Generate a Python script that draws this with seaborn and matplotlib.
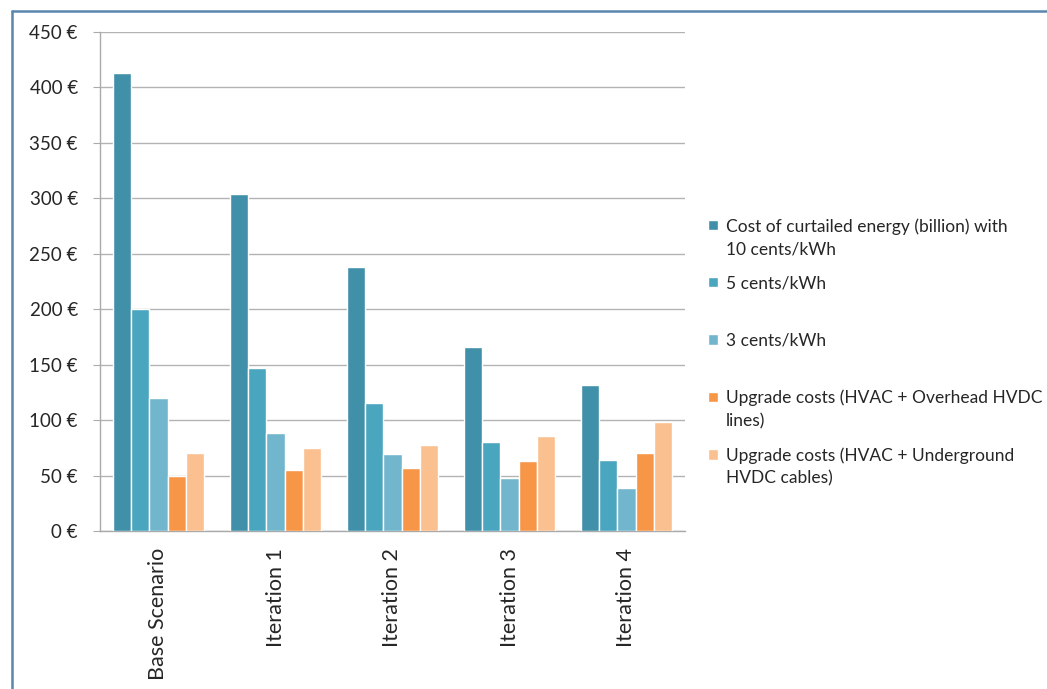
import matplotlib
matplotlib.use("Agg")
import matplotlib.pyplot as plt
import seaborn as sns
import pandas as pd
from matplotlib.lines import Line2D

categories = ["Base Scenario", "Iteration 1", "Iteration 2", "Iteration 3", "Iteration 4"]
cost_10c = [413, 304, 238, 166, 132]
cost_5c = [200, 147, 115, 80, 64]
cost_3c = [120, 88, 69, 48, 39]
upgrade_overhead = [50, 55, 57, 63, 70]
upgrade_underground = [70, 75, 78, 86, 98]

series_names = [
    "Cost of curtailed energy (billion) with\n10 cents/kWh",
    "5 cents/kWh",
    "3 cents/kWh",
    "Upgrade costs (HVAC + Overhead HVDC\nlines)",
    "Upgrade costs (HVAC + Underground\nHVDC cables)",
]
series_values = [cost_10c, cost_5c, cost_3c, upgrade_overhead, upgrade_underground]
colors = ["#4190AA", "#4AA5BF", "#72B6CD", "#F79646", "#FAC090"]
yticks = [0, 50, 100, 150, 200, 250, 300, 350, 400, 450]

rows = []
for name, vals in zip(series_names, series_values):
    for cat, v in zip(categories, vals):
        rows.append({"category": cat, "series": name, "value": v})
df = pd.DataFrame(rows)

sns.set_style("white")
plt.rcParams["font.family"] = ["Lato", "DejaVu Sans"]

W, H = 1047, 689
fig = plt.figure(figsize=(W / 100, H / 100), dpi=100)
ax = fig.add_axes([100 / W, 1 - 531 / H, 585 / W, 499 / H])

sns.barplot(data=df, x="category", y="value", hue="series", order=categories,
            hue_order=series_names, palette=colors, width=0.77, gap=0,
            edgecolor="white", linewidth=1.0, saturation=1, ax=ax, zorder=3)

ax.set_ylim(0, 450)
ax.set_xlim(-0.5, 4.5)
ax.set_yticks(yticks)
ax.set_yticklabels([f"{t} €" for t in yticks], fontsize=13.5)
ax.set_xticks(range(len(categories)))
ax.set_xticklabels(categories, rotation=90, fontsize=15.5)
ax.set_xlabel("")
ax.set_ylabel("")
ax.yaxis.grid(True, color="#B3B3B3", linewidth=1.0, zorder=0)
ax.set_axisbelow(True)
for s in ["top", "right"]:
    ax.spines[s].set_visible(False)
for s in ["left", "bottom"]:
    ax.spines[s].set_color("#AAAAAA")
    ax.spines[s].set_linewidth(1.0)
ax.tick_params(axis="y", which="major", left=True, length=5, color="#AAAAAA", pad=11)
ax.tick_params(axis="x", which="major", bottom=False, length=0, pad=12)

# legend: every entry occupies two text lines, handle next to the first line
handles, labels = ax.get_legend_handles_labels()
labels = [l if "\n" in l else l + "\n " for l in labels]
fs = 12.5
ls = 1.5
leg = ax.legend(handles, labels, loc="upper left",
                bbox_to_anchor=(708 / W, 1 - 218 / H), bbox_transform=fig.transFigure,
                frameon=False, fontsize=fs, handlelength=0.55, handleheight=0.55,
                handletextpad=0.5, labelspacing=1.07, borderaxespad=0, borderpad=0)
for t in leg.get_texts():
    t.set_linespacing(ls)
for h in leg.legend_handles:
    h.set_y(h.get_y() + 0.5 * ls * fs)

# outer frame (left and top edges)
fig.add_artist(Line2D([12 / W, 12 / W], [0, 1 - 11 / H], transform=fig.transFigure,
                      color="#5B87AD", linewidth=1.8))
fig.add_artist(Line2D([12 / W, 1.0], [1 - 11 / H, 1 - 11 / H], transform=fig.transFigure,
                      color="#5B87AD", linewidth=1.8))

fig.savefig("out.png", dpi=100)
